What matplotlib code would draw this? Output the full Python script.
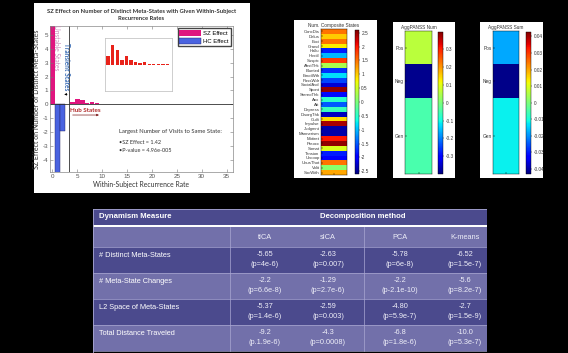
import matplotlib.pyplot as plt
import numpy as np
from matplotlib.patches import Rectangle

W, H = 568, 353

plt.rcParams["font.family"] = ["Liberation Sans", "DejaVu Sans"]
plt.rcParams["axes.unicode_minus"] = False

# ---------------------------------------------------------------------------
# Data
# ---------------------------------------------------------------------------

# bar chart: SZ / HC effect by within-subject recurrence rate
sz_rate = [0, 4, 5, 6, 7, 8, 9, 10, 11, 12, 13, 14, 15, 16, 17]
sz_effect = [6.5, 0.17, 0.38, 0.28, 0.09, 0.16, 0.10, 0.06, 0.04, 0.06, 0.02, 0.02, 0.02, 0.02, 0.01]
hc_rate = [1, 2]
hc_effect = [-6.0, -1.9]

# heatmap: number of composite states per PANSS item
panss_items = ["ConcDis", "Delus", "Exci", "Grand", "Hallu", "Hostil", "Suspic",
               "AbstThk", "Blunted", "EmotWth", "PassWdr", "SocialAvd", "Spont", "StereoThk",
               "Anx", "Att", "Depress", "DisorgThk", "Guilt", "Impulse", "Judgmnt", "Mannerism",
               "Motiret", "Preocc", "Somat", "Tension", "Uncoop", "UnusThot", "Volit", "SocWith"]
composite_vals = [1.5, 1.0, 1.5, 0.8, -1.8, -1.0, 1.8, 0.3, -1.7, -0.8, -1.6, -2.2, 2.5, -1.9,
                  -0.5, -1.5, -0.4, -2.3, 0.9, 2.4, -2.4, -2.4, 2.0, 2.5, 0.6, -1.8, -2.0, 1.5, 0.1, 1.2]

# aggregated PANSS
agg_labels = ["Pos", "Neg", "Gen"]
agg_heights = [1.0, 1.0, 2.3]
agg_num = [0.06, -0.39, -0.048]
agg_sum = [-0.018, -0.042, -0.012]

# table
methods = ["tICA", "sICA", "PCA", "K-means"]
measures = ["# Distinct Meta-States", "# Meta-State Changes",
            "L2 Space of Meta-States", "Total Distance Traveled"]
effects = [["-5.65", "-2.63", "-5.78", "-6.52"],
           ["-2.2", "-1.29", "-2.2", "-5.6"],
           ["-5.37", "-2.59", "-4.80", "-2.7"],
           ["-9.2", "-4.3", "-6.8", "-10.0"]]
pvals = [["(p=4e-6)", "(p=0.007)", "(p=6e-8)", "(p=1.5e-7)"],
         ["(p=6.6e-8)", "(p=2.7e-6)", "(p-2.1e-10)", "(p=8.2e-7)"],
         ["(p=1.4e-6)", "(p=0.003)", "(p=5.9e-7)", "(p=1.5e-9)"],
         ["(p.1.9e-6)", "(p=0.0008)", "(p=1.8e-6)", "(p=5.3e-7)"]]


def px_axes(fig, x0, y0, x1, y1, **kw):
    return fig.add_axes([x0 / W, 1 - y1 / H, (x1 - x0) / W, (y1 - y0) / H], **kw)


def white_panel(fig, x0, y0, x1, y1):
    fig.add_artist(Rectangle((x0 / W, 1 - y1 / H), (x1 - x0) / W, (y1 - y0) / H,
                             transform=fig.transFigure, facecolor="white",
                             edgecolor="none", zorder=-5))


fig = plt.figure(figsize=(W / 100, H / 100), dpi=100, facecolor="black")

# ---------------------------------------------------------------------------
# Panel 1: bar chart
# ---------------------------------------------------------------------------
white_panel(fig, 34, 3, 250, 193)
SZ_COLOR = "#e0157f"
HC_COLOR = "#4a63e0"
CHART_FONT = ["Lato", "Liberation Sans"]
ax = px_axes(fig, 50, 26, 233, 172)
ax.bar(sz_rate, sz_effect, width=0.88, color=SZ_COLOR, label="SZ Effect")
ax.bar(hc_rate, hc_effect, width=0.88, color=HC_COLOR, edgecolor="#202060",
       linewidth=0.3, label="HC Effect")
ax.axhline(0, color="#303030", lw=0.6)
ax.axvline(3.35, color="#303030", lw=0.6)
ax.set_xlim(-0.5, 36.3)
ax.set_ylim(-4.88, 5.65)
ax.set_xticks(range(0, 36, 5))
ax.set_yticks(range(-4, 6))
ax.tick_params(direction="in", top=True, right=True, length=2, width=0.4,
               labelsize=4.5, labelcolor="#555555", color="#777777", pad=1.5)
for s in ax.spines.values():
    s.set_color("#888888")
    s.set_linewidth(0.5)
ax.set_title("SZ Effect on Number of Distinct Meta-States with Given Within-Subject\nRecurrence Rates",
             fontsize=4.2, fontweight="bold", color="#333333", family=CHART_FONT,
             pad=4, linespacing=1.6)
ax.set_ylabel("SZ Effect on Number of Distinct Meta-States", fontsize=5.0,
              color="#333333", labelpad=2, family=CHART_FONT)
ax.set_xlabel("Within-Subject Recurrence Rate", fontsize=4.9, color="#333333",
              labelpad=1.5, family=CHART_FONT)
ax.legend(loc="upper right", fontsize=4.3, handlelength=3.6, handleheight=1.2,
          borderaxespad=0.4, borderpad=0.3, labelspacing=0.25, handletextpad=0.4,
          fancybox=False, edgecolor="#444444", framealpha=1)

ax.text(0.9, 4.1, "Unstable States", rotation=-90, fontsize=4.8, color="#c989b8",
        ha="center", va="center", family=CHART_FONT)
ax.text(2.8, 2.75, "Transient States", rotation=-90, fontsize=4.7, color="#3a6db5",
        fontweight="bold", ha="center", va="center", family=CHART_FONT)
ax.annotate("", xy=(1.8, 0.72), xytext=(3.5, 0.72),
            arrowprops=dict(arrowstyle="-|>", lw=0.5, color="black", mutation_scale=3))
ax.text(3.6, -0.42, "Hub States", fontsize=4.5, color="#b02828", fontweight="bold",
        ha="left", va="center", family=CHART_FONT)
ax.annotate("", xy=(9.9, -0.77), xytext=(3.5, -0.77),
            arrowprops=dict(arrowstyle="-|>", lw=0.5, color="#802020", mutation_scale=3))
ax.text(13.4, -1.93, "Largest Number of Visits to Same State:", fontsize=4.2,
        color="#333333", va="center", family=CHART_FONT)
ax.text(13.4, -2.74, "\u2022SZ Effect = 1.42", fontsize=4.0, color="#333333",
        va="center", family=CHART_FONT)
ax.text(13.4, -3.30, "\u2022P-value = 4.96e-005", fontsize=4.0, color="#333333",
        va="center", family=CHART_FONT)

# inset zoom of SZ bars
axi = px_axes(fig, 105, 38, 172, 91)
axi.bar(sz_rate, sz_effect, width=0.75, color="#e8221a")
axi.set_xlim(3.3, 18)
axi.set_ylim(-0.5, 0.51)
axi.set_xticks([])
axi.set_yticks([])
for s in axi.spines.values():
    s.set_color("#bbbbbb")
    s.set_linewidth(0.5)

# ---------------------------------------------------------------------------
# Panel 2: composite states heatmap
# ---------------------------------------------------------------------------
white_panel(fig, 294, 20, 377, 178)
ax2 = px_axes(fig, 321, 29, 347, 175)
im2 = ax2.imshow(np.array(composite_vals)[:, None], cmap="jet", vmin=-2.6, vmax=2.6,
                 aspect="auto", interpolation="nearest")
ax2.set_yticks(range(len(panss_items)))
ax2.set_yticklabels(panss_items, fontsize=3.1, color="#333333")
ax2.set_xticks([0])
ax2.set_xticklabels([])
ax2.tick_params(direction="in", length=1.2, width=0.3, pad=1)
ax2.set_title("Num. Composite States", fontsize=3.4, pad=1.5, color="#333333")
for s in ax2.spines.values():
    s.set_linewidth(0.3)
cax2 = px_axes(fig, 355, 30, 358.5, 174)
cb2 = fig.colorbar(im2, cax=cax2)
ticks2 = [2.5, 2, 1.5, 1, 0.5, 0, -0.5, -1, -1.5, -2, -2.5]
cb2.set_ticks(ticks2)
cb2.set_ticklabels([f"{t:g}" for t in ticks2])
cb2.ax.tick_params(labelsize=3.4, length=1, width=0.3, pad=1, labelcolor="#333333")
cb2.outline.set_linewidth(0.3)


# ---------------------------------------------------------------------------
# Panels 3, 4: aggregated PANSS
# ---------------------------------------------------------------------------
def agg_panel(x0, x1, cx0, cx1, bg, values, vlim, ticks, title):
    white_panel(fig, *bg)
    axp = px_axes(fig, x0, 31, x1, 174)
    edges = np.concatenate([[0], np.cumsum(agg_heights)])
    centers = (edges[:-1] + edges[1:]) / 2
    mesh = axp.pcolormesh([0, 1], edges, np.array(values)[:, None], cmap="jet",
                          vmin=-vlim, vmax=vlim)
    axp.set_ylim(edges[-1], 0)
    axp.set_yticks(centers)
    axp.set_yticklabels(agg_labels, fontsize=3.4, color="#333333")
    axp.set_xticks([0.5])
    axp.set_xticklabels([])
    axp.tick_params(direction="in", length=1.2, width=0.3, pad=1)
    axp.set_title(title, fontsize=3.4, pad=1.5, color="#333333")
    for s in axp.spines.values():
        s.set_linewidth(0.3)
    caxp = px_axes(fig, cx0, 31.5, cx1, 174)
    cb = fig.colorbar(mesh, cax=caxp)
    cb.set_ticks(ticks)
    cb.set_ticklabels([f"{t:g}" for t in ticks])
    cb.ax.tick_params(labelsize=3.4, length=1, width=0.3, pad=1, labelcolor="#333333")
    cb.outline.set_linewidth(0.3)


agg_panel(405, 432, 438, 443, (393, 22, 455, 178), agg_num, 0.4,
          [0.3, 0.2, 0.1, 0, -0.1, -0.2, -0.3], "AggPANSS Num")
agg_panel(493, 519, 526, 531, (480, 22, 543, 178), agg_sum, 0.043,
          [0.04, 0.03, 0.02, 0.01, 0, -0.01, -0.02, -0.03, -0.04], "AggPANSS Sum")

# ---------------------------------------------------------------------------
# Table
# ---------------------------------------------------------------------------
axt = px_axes(fig, 93, 209, 487, 353)
axt.set_xlim(93, 487)
axt.set_ylim(353, 209)
axt.set_axis_off()

DARK = "#4b4a8d"
LIGHT = "#7270aa"
LINE = "#a9a7d2"
row_tops = [247, 273, 299, 325]
row_h = 26
col_centers = [265, 328, 400, 465]

axt.add_patch(Rectangle((93, 209), 394, 16, facecolor=DARK, edgecolor="none"))
axt.add_patch(Rectangle((93, 225), 394, 2.2, facecolor="white", edgecolor="none"))
axt.add_patch(Rectangle((93, 227.2), 394, 20, facecolor=LIGHT, edgecolor="none"))
for i, top in enumerate(row_tops):
    axt.add_patch(Rectangle((93, top), 394, row_h,
                            facecolor=DARK if i % 2 == 0 else LIGHT, edgecolor="none"))
    axt.plot([93, 487], [top, top], color=LINE, lw=0.5)
axt.plot([93, 487], [row_tops[-1] + row_h, row_tops[-1] + row_h], color=LINE, lw=0.5)
axt.plot([93, 487], [209.3, 209.3], color=LINE, lw=0.6)
axt.plot([93.3, 93.3], [209, 353], color=LINE, lw=0.6)
for x in (230, 364):
    axt.plot([x, x], [227.2, 351], color=LINE, lw=0.5)

axt.text(99, 217, "Dynamism Measure", fontsize=5.6, fontweight="bold", color="white",
         va="center", ha="left")
axt.text(363, 217, "Decomposition method", fontsize=5.6, fontweight="bold", color="white",
         va="center", ha="center")
for j, m in enumerate(methods):
    axt.text(col_centers[j], 237.5, m, fontsize=5.3, color="#eeeef8", ha="center", va="center")
for i, name in enumerate(measures):
    top = row_tops[i]
    axt.text(99, top + 8.5, name, fontsize=5.3, color="white", ha="left", va="center")
    for j in range(4):
        axt.text(col_centers[j], top + 7.5, effects[i][j], fontsize=5.3, color="#eeeef8",
                 ha="center", va="center")
        axt.text(col_centers[j], top + 18, pvals[i][j], fontsize=5.3, color="#eeeef8",
                 ha="center", va="center")

fig.savefig("out.png", dpi=100, facecolor="black")
